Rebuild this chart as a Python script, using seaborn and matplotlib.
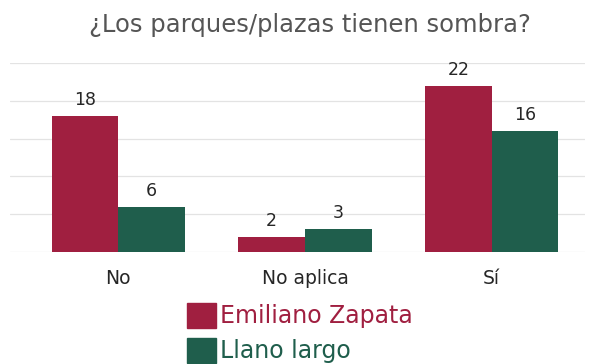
import matplotlib
matplotlib.use("Agg")
import matplotlib.pyplot as plt
import matplotlib.patches as mpatches
import seaborn as sns
import pandas as pd

categories = ["No", "No aplica", "Sí"]
emiliano_zapata = [18, 2, 22]
llano_largo = [6, 3, 16]
series_names = ["Emiliano Zapata", "Llano largo"]
colors = ["#A01F40", "#1F5E4C"]

df = pd.DataFrame({
    "respuesta": categories * 2,
    "valor": emiliano_zapata + llano_largo,
    "colonia": [series_names[0]] * 3 + [series_names[1]] * 3,
})

sns.set_theme(style="white")
plt.rcParams["font.family"] = ["DejaVu Sans"]

fig = plt.figure(figsize=(5.9, 3.64), dpi=100)
ax = fig.add_axes([10 / 590, 1 - 252 / 364, 575 / 590, 189 / 364])

sns.barplot(data=df, x="respuesta", y="valor", hue="colonia",
            palette=colors, width=0.715, saturation=1, ax=ax,
            legend=False, linewidth=0)

ax.set_ylim(0, 25)
ax.set_xlim(-0.58, 2.5)
ax.set_yticks([0, 5, 10, 15, 20, 25])
ax.yaxis.grid(True, color="#E3E3E3", linewidth=0.9)
ax.set_axisbelow(True)
ax.tick_params(axis="y", left=False, labelleft=False)
ax.tick_params(axis="x", bottom=False, labelsize=13.5, labelcolor="#262626", pad=6)
ax.set_xlabel("")
ax.set_ylabel("")
for s in ax.spines.values():
    s.set_visible(False)

for cont in ax.containers:
    ax.bar_label(cont, fmt="%d", padding=5, fontsize=12.5, color="#262626")

fig.suptitle("¿Los parques/plazas tienen sombra?", x=0.525, y=1 - 13 / 364,
             fontsize=17.5, color="#555555", va="top")

handles = [mpatches.Patch(color=c, label=n) for c, n in zip(colors, series_names)]
leg = fig.legend(handles=handles, loc="upper left",
                 bbox_to_anchor=(187 / 590, 1 - 303 / 364),
                 frameon=False, fontsize=17, handlelength=1.23, handleheight=1.23,
                 handletextpad=0.15, labelspacing=0.42, borderpad=0, borderaxespad=0)
for t, c in zip(leg.get_texts(), colors):
    t.set_color(c)

fig.savefig("out.png", dpi=100)
